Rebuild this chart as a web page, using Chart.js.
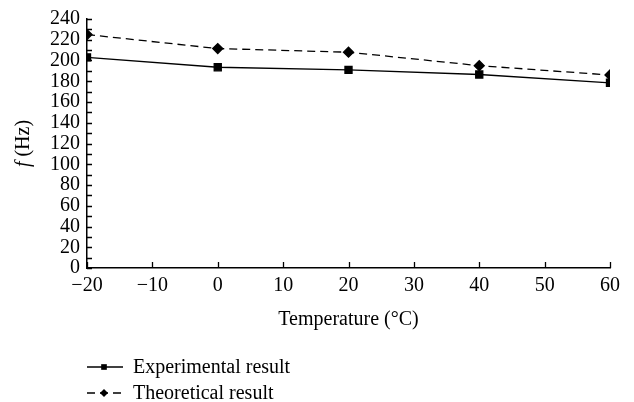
<!DOCTYPE html>
<html>
<head>
<meta charset="utf-8">
<script src="https://cdn.jsdelivr.net/npm/chart.js@4"></script>
<style>
  html, body { margin: 0; padding: 0; background: #fff; }
  #wrap { width: 634px; height: 402px; }
</style>
</head>
<body>
<div id="wrap"><canvas id="freqChart"></canvas></div>
<script>
const temperatures = [-20, 0, 20, 40, 60];
const experimental = [203, 193.5, 191, 186.5, 178.5];
const theoretical = [225, 211.5, 208, 195, 186];
const seriesNames = ['Experimental result', 'Theoretical result'];
const xTitle = 'Temperature (°C)';

const serif = '"Liberation Serif", "DejaVu Serif", serif';
const fontSize = 20;

// ticks point inward, minor ticks every 10 on y, plus italic f in the y title and a stacked legend
const extras = {
    id: 'extras',
    afterDraw(chart) {
        const c = chart.ctx;
        const area = chart.chartArea;
        const xs = chart.scales.x, ys = chart.scales.y;
        c.save();
        c.strokeStyle = '#000';
        c.lineWidth = 1.3;
        c.beginPath();
        for (let v = ys.min; v <= ys.max; v += 10) {
            const py = Math.round(ys.getPixelForValue(v)) + 0.5;
            c.moveTo(area.left, py);
            c.lineTo(area.left + 5, py);
        }
        for (let v = xs.min; v <= xs.max; v += 10) {
            const px = Math.round(xs.getPixelForValue(v)) + 0.5;
            c.moveTo(px, area.bottom);
            c.lineTo(px, area.bottom - 6);
        }
        c.stroke();

        // y title
        c.fillStyle = '#000';
        c.textBaseline = 'middle';
        c.translate(24, (area.top + area.bottom) / 2);
        c.rotate(-Math.PI / 2);
        c.font = 'italic ' + fontSize + 'px ' + serif;
        const w1 = c.measureText('f').width;
        c.font = fontSize + 'px ' + serif;
        const w2 = c.measureText(' (Hz)').width;
        let sx = -(w1 + w2) / 2;
        c.font = 'italic ' + fontSize + 'px ' + serif;
        c.textAlign = 'left';
        c.fillText('f', sx, 0);
        c.font = fontSize + 'px ' + serif;
        c.fillText(' (Hz)', sx + w1, 0);
        c.restore();

        // legend
        c.save();
        chart.data.datasets.forEach((ds, i) => {
            const ly = area.bottom + 99 + i * 26;
            const lx = area.left;
            c.strokeStyle = ds.borderColor;
            c.lineWidth = ds.borderWidth;
            c.setLineDash(ds.borderDash || []);
            c.beginPath();
            c.moveTo(lx, ly);
            c.lineTo(lx + 36, ly);
            c.stroke();
            c.setLineDash([]);
            c.fillStyle = '#000';
            Chart.helpers.drawPoint(c, {
                pointStyle: ds.pointStyle,
                radius: ds.pointRadius - 1,
                rotation: 0,
                borderWidth: 0
            }, lx + 17, ly);
            c.fillStyle = '#000';
            c.font = fontSize + 'px ' + serif;
            c.textAlign = 'left';
            c.textBaseline = 'middle';
            c.fillText(ds.label, lx + 46, ly + 1);
        });
        c.restore();
    }
};

const data = {
    labels: temperatures,
    datasets: [{
        label: seriesNames[0],
        data: temperatures.map((t, i) => ({ x: t, y: experimental[i] })),
        borderColor: '#000',
        backgroundColor: '#000',
        borderWidth: 1.3,
        pointStyle: 'rect',
        pointRadius: 5,
        pointHoverRadius: 5,
        tension: 0
    }, {
        label: seriesNames[1],
        data: temperatures.map((t, i) => ({ x: t, y: theoretical[i] })),
        borderColor: '#000',
        backgroundColor: '#000',
        borderWidth: 1.3,
        borderDash: [8, 5],
        pointStyle: 'rectRot',
        pointRadius: 5,
        pointHoverRadius: 5,
        tension: 0
    }]
};

const config = {
    type: 'line',
    data: data,
    options: {
        responsive: true,
        maintainAspectRatio: false,
        animation: false,
        layout: {
            padding: { left: 43, right: 24, top: 8, bottom: 70 }
        },
        scales: {
            x: {
                type: 'linear',
                min: -20,
                max: 60,
                grid: { display: true, drawOnChartArea: false, drawTicks: false },
                border: { display: true, color: '#000', width: 1.5 },
                ticks: {
                    stepSize: 10,
                    color: '#000',
                    padding: 6,
                    font: { family: serif, size: fontSize },
                    callback: v => String(v).replace('-', '\u2212')
                },
                title: {
                    display: true,
                    text: xTitle,
                    color: '#000',
                    font: { family: serif, size: fontSize },
                    padding: { top: 4, bottom: 0 }
                }
            },
            y: {
                min: 0,
                max: 240,
                grid: { display: true, drawOnChartArea: false, drawTicks: false },
                border: { display: true, color: '#000', width: 1.5 },
                ticks: {
                    stepSize: 20,
                    autoSkip: false,
                    color: '#000',
                    padding: 7,
                    font: { family: serif, size: fontSize }
                }
            }
        },
        plugins: {
            legend: { display: false },
            tooltip: { enabled: false }
        }
    },
    plugins: [extras]
};

const freqChart = new Chart(document.getElementById('freqChart'), config);
</script>
</body>
</html>
